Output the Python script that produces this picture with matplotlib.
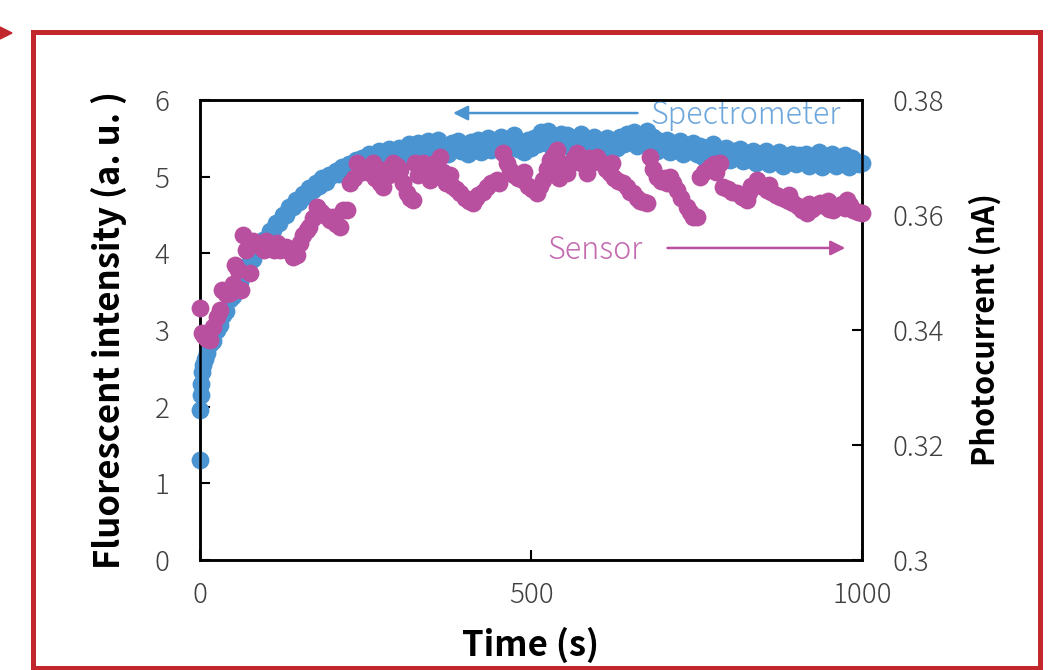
import numpy as np
import matplotlib
matplotlib.use("Agg")
import matplotlib.pyplot as plt
from matplotlib.patches import Rectangle, Polygon

plt.rcParams['font.family'] = ['Noto Sans CJK JP', 'DejaVu Sans']

# Spectrometer (left axis, a.u.), 5 s sampling after the first few seconds
spec_t = [0, 0, 1, 2, 3, 5, 8] + list(range(10, 1001, 5))
spec_v = [1.30, 1.96, 2.15, 2.30, 2.45, 2.55, 2.62,
          2.70, 2.82, 2.86, 3.00, 3.06, 3.19, 3.25, 3.40, 3.44, 3.57,
          3.63, 3.75, 3.80, 3.90, 3.93, 4.05, 4.06, 4.17, 4.18, 4.29,
          4.30, 4.40, 4.40, 4.50, 4.50, 4.60, 4.60, 4.69, 4.67, 4.77,
          4.75, 4.85, 4.83, 4.92, 4.88, 4.98, 4.93, 5.02,
          5.02, 5.08, 5.04, 5.12, 5.08, 5.16, 5.12, 5.22, 5.15, 5.25,
          5.20, 5.30, 5.22, 5.27, 5.33, 5.21, 5.30, 5.36, 5.25, 5.32,
          5.38, 5.26, 5.34, 5.42, 5.30, 5.37, 5.44, 5.32, 5.40, 5.46,
          5.35, 5.42, 5.48, 5.33, 5.40, 5.30, 5.44, 5.36, 5.47, 5.34,
          5.40, 5.30, 5.45, 5.36, 5.48, 5.32, 5.42, 5.50, 5.35, 5.44,
          5.38, 5.52, 5.34, 5.46, 5.40, 5.55, 5.36, 5.44, 5.32, 5.48,
          5.38, 5.50, 5.42, 5.58, 5.45, 5.60, 5.40, 5.52, 5.46, 5.56,
          5.42, 5.54, 5.38, 5.50, 5.44, 5.56, 5.36, 5.48, 5.40, 5.52,
          5.36, 5.46, 5.40, 5.50, 5.34, 5.44, 5.38, 5.52, 5.42, 5.56,
          5.46, 5.58, 5.40, 5.50, 5.44, 5.60, 5.38, 5.52, 5.34, 5.46,
          5.40, 5.48, 5.32, 5.44, 5.36, 5.46, 5.30, 5.40, 5.34, 5.44,
          5.30, 5.40, 5.26, 5.38, 5.32, 5.42, 5.24, 5.36, 5.28, 5.38,
          5.22, 5.34, 5.26, 5.36, 5.20, 5.30, 5.24, 5.34, 5.18, 5.30,
          5.24, 5.34, 5.16, 5.28, 5.22, 5.32, 5.14, 5.26, 5.20, 5.30,
          5.16, 5.28, 5.20, 5.30, 5.14, 5.26, 5.18, 5.32, 5.12, 5.24,
          5.20, 5.30, 5.14, 5.26, 5.18, 5.28, 5.12, 5.24, 5.20, 5.16,
          5.18]

# Sensor (right axis, nA)
sens_t = [0, 3, 6, 10, 15, 20, 25, 30, 33, 40, 45, 50, 53, 58, 62, 65, 70, 75, 80,
          86, 92, 100, 106, 112, 121, 130, 140, 151, 156, 161, 165, 170, 176, 183,
          190, 196, 201, 206, 211, 216, 222, 227, 232, 237, 245, 250, 257, 265,
          272, 277, 285, 292, 297, 302, 307, 312, 317, 322, 330, 337, 342, 347,
          355, 362, 367, 372, 380, 386, 393, 400, 407, 413, 420, 427, 433, 440,
          448, 452, 458, 463, 468, 475, 481, 488, 495, 502, 509, 514, 518, 524,
          529, 534, 539, 546, 554, 560, 565, 569, 576, 584, 590, 595, 600, 607,
          613, 619, 626, 632, 639, 645, 650, 654, 660, 665, 670, 675, 680, 685,
          690, 697, 703, 710, 715, 720, 727, 735, 740, 745, 751, 755, 762, 770,
          777, 785, 790, 797, 804, 811, 818, 826, 833, 841, 848, 856, 863, 870,
          876, 883, 890, 896, 903, 910, 917, 925, 930, 937, 944, 950, 956, 963,
          970, 977, 982, 987, 994, 1000,
          96, 117, 135, 146, 262, 282, 325, 377, 417, 490, 543, 588, 622, 706,
          780, 830, 860, 890, 920, 948, 975]
sens_v = [0.3438, 0.3395, 0.3390, 0.3385, 0.3383, 0.3405, 0.3423, 0.3435, 0.3470,
          0.3462, 0.3464, 0.3480, 0.3513, 0.3504, 0.3470, 0.3565, 0.3539, 0.3499,
          0.3555, 0.3551, 0.3545, 0.3555, 0.3548, 0.3540, 0.3539, 0.3545, 0.3527,
          0.3551, 0.3565, 0.3574, 0.3580, 0.3595, 0.3614, 0.3605, 0.3598, 0.3591,
          0.3597, 0.3585, 0.3579, 0.3609, 0.3609, 0.3656, 0.3665, 0.3690, 0.3675,
          0.3680, 0.3673, 0.3665, 0.3655, 0.3649, 0.3670, 0.3690, 0.3685, 0.3678,
          0.3655, 0.3638, 0.3630, 0.3626, 0.3670, 0.3690, 0.3675, 0.3661, 0.3690,
          0.3701, 0.3675, 0.3656, 0.3650, 0.3645, 0.3638, 0.3630, 0.3625, 0.3621,
          0.3635, 0.3640, 0.3649, 0.3655, 0.3661, 0.3656, 0.3708, 0.3690, 0.3678,
          0.3670, 0.3665, 0.3661, 0.3650, 0.3645, 0.3638, 0.3650, 0.3661, 0.3680,
          0.3696, 0.3705, 0.3713, 0.3690, 0.3673, 0.3690, 0.3700, 0.3708, 0.3690,
          0.3673, 0.3690, 0.3698, 0.3701, 0.3690, 0.3680, 0.3673, 0.3665, 0.3660,
          0.3656, 0.3648, 0.3640, 0.3638, 0.3630, 0.3625, 0.3622, 0.3621, 0.3701,
          0.3680, 0.3666, 0.3660, 0.3665, 0.3666, 0.3655, 0.3643, 0.3630, 0.3614,
          0.3605, 0.3597, 0.3597, 0.3666, 0.3675, 0.3683, 0.3688, 0.3690, 0.3649,
          0.3645, 0.3640, 0.3638, 0.3632, 0.3626, 0.3650, 0.3661, 0.3650, 0.3643,
          0.3640, 0.3635, 0.3631, 0.3628, 0.3625, 0.3621, 0.3615, 0.3608, 0.3603,
          0.3610, 0.3615, 0.3621, 0.3615, 0.3610, 0.3609, 0.3615, 0.3620, 0.3626,
          0.3618, 0.3609, 0.3606, 0.3603,
          0.3540, 0.3552, 0.3538, 0.3530, 0.3690, 0.3680, 0.3690, 0.3670, 0.3630,
          0.3675, 0.3665, 0.3700, 0.3690, 0.3655, 0.3675, 0.3640, 0.3652, 0.3635,
          0.3620, 0.3625, 0.3612]

blue = '#4a94d2'
pink = '#b9509f'

fig = plt.figure(figsize=(10.57, 6.70), dpi=100)
ax = fig.add_axes([200 / 1057, 1 - 560 / 670, 662 / 1057, 460 / 670])
ax2 = ax.twinx()

ax.scatter(spec_t, spec_v, s=165, color=blue, linewidths=0, clip_on=False, zorder=3)
ax2.scatter(sens_t, sens_v, s=165, color=pink, linewidths=0, clip_on=False, zorder=3)

ax.set_xlim(0, 1000)
ax.set_ylim(0, 6)
ax2.set_ylim(0.3, 0.38)
ax.set_xticks([0, 500, 1000])
ax.set_yticks(range(7))
ax2.set_yticks([0.30, 0.32, 0.34, 0.36, 0.38])
ax2.set_yticklabels(['0.3', '0.32', '0.34', '0.36', '0.38'])

for a in (ax, ax2):
    for sp in a.spines.values():
        sp.set_linewidth(1.8)
ax.tick_params(axis='both', direction='in', length=7, width=1.5, colors='black',
               labelsize=20, labelcolor='#404040')
ax.tick_params(axis='y', pad=22)
ax.tick_params(axis='x', pad=15)
ax2.tick_params(axis='y', direction='in', length=7, width=1.5, labelsize=20,
                labelcolor='#404040', pad=22)
for lab in ax.get_xticklabels() + ax.get_yticklabels() + ax2.get_yticklabels():
    lab.set_fontweight('light')

ax.set_xlabel('Time (s)', fontsize=25, fontweight='bold', labelpad=13)
ax.set_ylabel('Fluorescent intensity (a. u. )', fontsize=25, fontweight='bold', labelpad=20)
ax2.set_ylabel('Photocurrent (nA)', fontsize=22, fontweight='bold', labelpad=18)

# arrows with series names
ax.annotate('', xy=(378, 5.83), xytext=(665, 5.83),
            arrowprops=dict(arrowstyle='-|>', color=blue, lw=1.8, mutation_scale=22))
ax.text(680, 5.81, 'Spectrometer', color='#6ea7dc', fontsize=22, fontweight='light',
        va='center', ha='left')
ax.annotate('', xy=(979, 4.07), xytext=(702, 4.07),
            arrowprops=dict(arrowstyle='-|>', color=pink, lw=1.8, mutation_scale=22))
ax.text(524, 4.05, 'Sensor', color='#c46bb0', fontsize=22, fontweight='light',
        va='center', ha='left')

# red frame of the figure panel
fig.patches.append(Rectangle((33 / 1057, 1 - 668 / 670), (1040 - 33) / 1057,
                             (668 - 32) / 670, transform=fig.transFigure,
                             fill=False, edgecolor='#c1272d', lw=3.6))
fig.patches.append(Polygon([(0, 1 - 27 / 670), (12 / 1057, 1 - 33 / 670),
                            (0, 1 - 39 / 670)], closed=True,
                           transform=fig.transFigure, color='#c1272d'))

fig.savefig('out.png', dpi=100)
